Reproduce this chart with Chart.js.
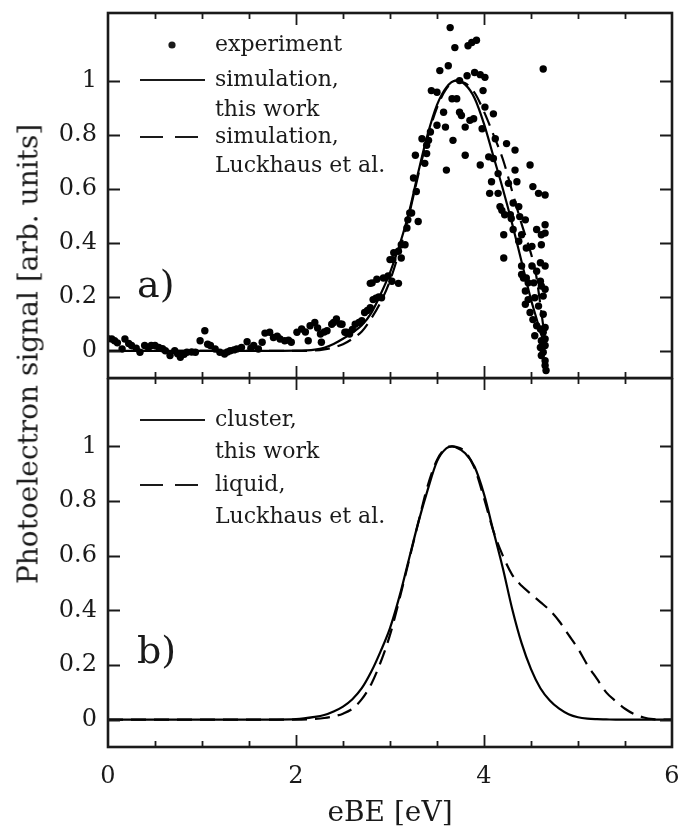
<!DOCTYPE html>
<html>
<head>
<meta charset="utf-8">
<script src="https://cdn.jsdelivr.net/npm/chart.js@4.4.1/dist/chart.umd.min.js"></script>
<style>
    body { margin: 0; background: #fff; }
    .figure { position: relative; width: 680px; height: 831px; }
    .figure canvas { position: absolute; left: 0; }
    .y-title {
        position: absolute;
        left: 28px;
        top: 354px;
        transform: translate(-50%, -50%) rotate(-90deg);
        white-space: nowrap;
        font: 28px 'DejaVu Serif', serif;
        color: #1a1a1a;
    }
</style>
</head>
<body>
<div class="figure">
    <canvas id="topChart" width="680" height="380" style="top:0"></canvas>
    <canvas id="bottomChart" width="680" height="453" style="top:378px"></canvas>
    <div class="y-title">Photoelectron signal [arb. units]</div>
</div>
<script>
// axis ticks
const xTicks = [0, 2, 4, 6];
const xMinorTicks = [0.5, 1, 1.5, 2, 2.5, 3, 3.5, 4, 4.5, 5, 5.5];
const yTicks = [0, 0.2, 0.4, 0.6, 0.8, 1];

// a) measured spectrum
const expX = [
    0.0, 0.04, 0.07, 0.10, 0.15, 0.18, 0.22, 0.25, 0.30, 0.34, 0.39, 0.43, 0.46, 0.50, 0.54, 0.58,
    0.61, 0.66, 0.71, 0.74, 0.77, 0.81, 0.84, 0.89, 0.93, 0.98, 1.03, 1.06, 1.09, 1.14, 1.19, 1.24,
    1.27, 1.30, 1.34, 1.37, 1.42, 1.48, 1.52, 1.55, 1.60, 1.64, 1.67, 1.72, 1.76, 1.80, 1.83, 1.88,
    1.92, 1.95, 2.01, 2.06, 2.10, 2.13, 2.15, 2.20, 2.23, 2.26, 2.27, 2.30, 2.33, 2.38, 2.40, 2.43,
    2.47, 2.49, 2.52, 2.54, 2.57, 2.60, 2.63, 2.67, 2.70, 2.73, 2.76, 2.79, 2.82, 2.85, 2.88, 2.91,
    2.79, 2.81, 2.86, 2.93, 2.98, 3.02, 3.09, 3.00, 3.03, 3.04, 3.09, 3.12, 3.12, 3.16, 3.18, 3.19,
    3.21, 3.23, 3.30, 3.28, 3.25, 3.27, 3.34, 3.37, 3.39, 3.39, 3.41, 3.43, 3.50, 3.44, 3.50, 3.53,
    3.57, 3.59, 3.62, 3.60, 3.67, 3.66, 3.71, 3.74, 3.69, 3.64, 3.74, 3.76, 3.80, 3.80, 3.83, 3.87,
    3.92, 3.82, 3.90, 3.96, 4.01, 3.85, 3.89, 3.99, 4.01, 3.98, 3.96, 4.10, 4.05, 4.10, 4.12, 4.24,
    4.33, 4.15, 4.08, 4.06, 4.15, 4.17, 4.19, 4.21, 4.21, 4.26, 4.33, 4.35, 4.28, 4.22, 4.29, 4.31,
    4.31, 4.37, 4.38, 4.44, 4.40, 4.37, 4.45, 4.51, 4.49, 4.52, 4.58, 4.65, 4.56, 4.61, 4.65, 4.65,
    4.61, 4.40, 4.42, 4.40, 4.45, 4.51, 4.56, 4.60, 4.65, 4.44, 4.47, 4.53, 4.60, 4.61, 4.65, 4.63,
    4.44, 4.47, 4.49, 4.54, 4.58, 4.63, 4.52, 4.56, 4.54, 4.60, 4.63, 4.65, 4.61, 4.65, 4.60, 4.65,
    4.63, 4.61, 4.65, 4.65, 4.66, 4.63
];
const expY = [
    0.045, 0.044, 0.038, 0.030, 0.007, 0.044, 0.028, 0.020, 0.010, -0.005, 0.020, 0.012, 0.020, 0.020, 0.013, 0.008,
    0.001, -0.017, 0.001, -0.010, -0.023, -0.012, -0.005, -0.004, -0.005, 0.038, 0.075, 0.025, 0.020, 0.007, -0.005, -0.011,
    -0.004, 0.001, 0.004, 0.007, 0.013, 0.034, 0.010, 0.020, 0.007, 0.032, 0.066, 0.069, 0.050, 0.055, 0.044, 0.038,
    0.040, 0.032, 0.069, 0.081, 0.070, 0.038, 0.093, 0.105, 0.085, 0.063, 0.032, 0.070, 0.075, 0.099, 0.105, 0.118,
    0.100, 0.099, 0.069, 0.069, 0.063, 0.080, 0.099, 0.105, 0.112, 0.142, 0.150, 0.160, 0.190, 0.195, 0.200, 0.197,
    0.250, 0.252, 0.265, 0.270, 0.277, 0.258, 0.250, 0.338, 0.338, 0.363, 0.369, 0.344, 0.393, 0.393, 0.455, 0.485,
    0.510, 0.510, 0.479, 0.590, 0.640, 0.724, 0.785, 0.694, 0.730, 0.761, 0.779, 0.810, 0.835, 0.963, 0.957, 1.037,
    0.883, 0.828, 1.055, 0.669, 0.779, 0.933, 0.933, 1.000, 1.122, 1.196, 0.883, 0.871, 0.828, 0.724, 1.129, 1.141,
    1.149, 1.018, 1.030, 1.022, 1.012, 0.853, 0.859, 0.963, 0.902, 0.822, 0.688, 0.877, 0.718, 0.712, 0.785, 0.767,
    0.743, 0.656, 0.626, 0.583, 0.583, 0.534, 0.520, 0.430, 0.344, 0.620, 0.669, 0.626, 0.504, 0.504, 0.490, 0.547,
    0.449, 0.534, 0.497, 0.485, 0.430, 0.406, 0.381, 0.387, 0.688, 0.608, 0.583, 0.577, 0.449, 0.430, 0.467, 0.436,
    0.393, 0.314, 0.270, 0.283, 0.270, 0.314, 0.295, 0.326, 0.314, 0.222, 0.252, 0.252, 0.258, 0.240, 0.228, 0.203,
    0.173, 0.190, 0.142, 0.197, 0.166, 0.136, 0.116, 0.093, 0.056, 0.081, 0.069, 0.087, 0.038, 0.044, 0.013, 0.020,
    -0.005, -0.017, -0.036, -0.054, -0.072, 1.043
];

// a) simulated spectra
const simX = [
    0, 0.5, 1, 1.5, 2, 2.2, 2.3, 2.4, 2.5, 2.6, 2.7, 2.8, 2.9, 3.0, 3.1, 3.2,
    3.3, 3.4, 3.5, 3.6, 3.7, 3.8, 3.9, 4.0, 4.1, 4.2, 4.3, 4.4, 4.5, 4.55, 4.6, 4.65
];
const simThisWork = [
    0, 0, 0, 0, 0.001, 0.005, 0.012, 0.026, 0.045, 0.068, 0.095, 0.14, 0.21, 0.29, 0.39, 0.51,
    0.66, 0.80, 0.91, 0.975, 1.0, 0.985, 0.935, 0.84, 0.72, 0.60, 0.47, 0.33, 0.19, 0.13, 0.07, 0.02
];
const simLuckhaus = [
    0, 0, 0, 0, 0, 0.002, 0.006, 0.013, 0.025, 0.045, 0.072, 0.12, 0.18, 0.26, 0.37, 0.50,
    0.65, 0.79, 0.90, 0.97, 1.0, 0.99, 0.955, 0.885, 0.80, 0.71, 0.59, 0.47, 0.36, 0.29, 0.17, 0.04
];

// b) cluster vs. liquid
const cmpX = [
    0, 0.5, 1, 1.5, 2, 2.2, 2.3, 2.4, 2.5, 2.6, 2.7, 2.8, 2.9, 3.0, 3.1, 3.2, 3.3, 3.4, 3.5, 3.6, 3.66, 3.7,
    3.8, 3.9, 4.0, 4.1, 4.2, 4.3, 4.4, 4.5, 4.6, 4.7, 4.8, 4.9, 5.0, 5.1, 5.2, 5.3, 5.4, 5.5, 5.6, 5.7, 5.8, 5.9, 6.0
];
const cluster = [
    0, 0, 0, 0, 0.002, 0.01, 0.017, 0.03, 0.048, 0.075, 0.115, 0.175, 0.25, 0.335, 0.45, 0.585, 0.72, 0.84, 0.945, 0.993, 1.0, 0.997,
    0.975, 0.925, 0.825, 0.69, 0.555, 0.405, 0.28, 0.185, 0.115, 0.07, 0.04, 0.02, 0.009, 0.004, 0.002, 0.001, 0, 0, 0, 0, 0, 0, 0
];
const liquid = [
    0, 0, 0, 0, 0, 0.003, 0.006, 0.012, 0.022, 0.04, 0.075, 0.13, 0.21, 0.31, 0.44, 0.58, 0.72, 0.855, 0.95, 0.995, 1.0, 0.998,
    0.98, 0.92, 0.81, 0.69, 0.6, 0.53, 0.49, 0.46, 0.43, 0.40, 0.36, 0.31, 0.26, 0.2, 0.15, 0.1, 0.068, 0.04, 0.02, 0.008, 0.002, 0, 0
];

const topLegend = [['experiment'], ['simulation,', 'this work'], ['simulation,', 'Luckhaus et al.']];
const bottomLegend = [['cluster,', 'this work'], ['liquid,', 'Luckhaus et al.']];

const serif = "'DejaVu Serif', serif";
const ink = '#1a1a1a';
Chart.defaults.font.family = serif;
Chart.defaults.color = ink;

const toPoints = (xs, ys) => xs.map((x, i) => ({ x, y: ys[i] }));

// frame, inward ticks, panel letter and the hand-laid legend
const panelDecor = {
    id: 'panelDecor',
    afterDatasetsDraw(chart, args, opts) {
        const { ctx, chartArea: a, scales: { x, y } } = chart;
        ctx.save();
        ctx.strokeStyle = ink;
        ctx.lineWidth = 1.8;
        ctx.setLineDash([]);
        ctx.beginPath();
        xMinorTicks.forEach((v) => {
            const px = Math.round(x.getPixelForValue(v)) + 0.5;
            const len = v % 2 === 0 ? 12 : 6;
            ctx.moveTo(px, a.top);
            ctx.lineTo(px, a.top + len);
            ctx.moveTo(px, a.bottom);
            ctx.lineTo(px, a.bottom - len);
        });
        yTicks.forEach((v) => {
            const py = Math.round(y.getPixelForValue(v)) + 0.5;
            ctx.moveTo(a.left, py);
            ctx.lineTo(a.left + 12, py);
            ctx.moveTo(a.right, py);
            ctx.lineTo(a.right - 12, py);
        });
        ctx.stroke();
        ctx.lineWidth = 2.6;
        ctx.strokeRect(a.left, a.top, a.right - a.left, a.bottom - a.top);

        ctx.fillStyle = ink;
        ctx.textBaseline = 'middle';
        ctx.font = `38px ${serif}`;
        ctx.fillText(opts.label, a.left + 29, a.top + opts.labelY);

        ctx.font = `22px ${serif}`;
        let row = 0;
        opts.entries.forEach((lines, i) => {
            const ds = chart.data.datasets[i];
            const sy = a.top + opts.rows[row];
            if (ds.showLine === false) {
                ctx.beginPath();
                ctx.arc(a.left + 64, sy, 3.6, 0, Math.PI * 2);
                ctx.fill();
            } else {
                ctx.lineWidth = 2.2;
                ctx.setLineDash(ds.borderDash && ds.borderDash.length ? [23, 12] : []);
                ctx.beginPath();
                ctx.moveTo(a.left + 32, sy);
                ctx.lineTo(a.left + 97, sy);
                ctx.stroke();
                ctx.setLineDash([]);
            }
            lines.forEach((line) => {
                ctx.fillText(line, a.left + 107, a.top + opts.rows[row]);
                row += 1;
            });
        });
        ctx.restore();
    },
};

const yScale = () => ({
    min: -0.1,
    max: 1.25,
    afterFit: (scale) => {
        scale.width = 108;
        scale.paddingTop = 0;
        scale.paddingBottom = 0;
    },
    afterBuildTicks: (scale) => {
        scale.ticks = yTicks.map((v) => ({ value: v }));
    },
    grid: { display: false, drawTicks: false },
    border: { display: false },
    ticks: {
        font: { size: 24 },
        padding: 11,
        callback: (v) => String(+v.toFixed(1)),
    },
});

const lineStyle = (dashed) => ({
    showLine: true,
    borderColor: '#000',
    borderWidth: 2.2,
    borderDash: dashed ? [15, 8] : [],
    pointRadius: 0,
    cubicInterpolationMode: 'monotone',
});

document.addEventListener('DOMContentLoaded', () => {
    new Chart(document.getElementById('topChart'), {
        type: 'scatter',
        data: {
            datasets: [
                {
                    label: 'experiment',
                    data: toPoints(expX, expY),
                    showLine: false,
                    pointRadius: 3.7,
                    pointBackgroundColor: '#000',
                    pointBorderWidth: 0,
                },
                { label: 'simulation, this work', data: toPoints(simX, simThisWork), ...lineStyle(false) },
                { label: 'simulation, Luckhaus et al.', data: toPoints(simX, simLuckhaus), ...lineStyle(true) },
            ],
        },
        options: {
            responsive: false,
            animation: false,
            layout: { autoPadding: false, padding: { top: 13, right: 8, bottom: 2, left: 0 } },
            scales: {
                x: { type: 'linear', min: 0, max: 6, display: false },
                y: yScale(),
            },
            plugins: {
                legend: { display: false },
                tooltip: { enabled: false },
                panelDecor: { label: 'a)', labelY: 274, entries: topLegend, rows: [32, 67, 97, 124, 153] },
            },
        },
        plugins: [panelDecor],
    });

    new Chart(document.getElementById('bottomChart'), {
        type: 'scatter',
        data: {
            datasets: [
                { label: 'cluster, this work', data: toPoints(cmpX, cluster), ...lineStyle(false) },
                { label: 'liquid, Luckhaus et al.', data: toPoints(cmpX, liquid), ...lineStyle(true) },
            ],
        },
        options: {
            responsive: false,
            animation: false,
            layout: { autoPadding: false, padding: { top: 0, right: 8, bottom: 0, left: 0 } },
            scales: {
                x: {
                    type: 'linear',
                    min: 0,
                    max: 6,
                    afterFit: (scale) => {
                        scale.height = 84;
                        scale.paddingLeft = 0;
                        scale.paddingRight = 0;
                    },
                    afterBuildTicks: (scale) => {
                        scale.ticks = xTicks.map((v) => ({ value: v }));
                    },
                    grid: { display: false, drawTicks: false },
                    border: { display: false },
                    ticks: { font: { size: 24 }, padding: 15, maxRotation: 0 },
                    title: { display: true, text: 'eBE [eV]', font: { size: 28 }, padding: { top: 0, bottom: 0 } },
                },
                y: yScale(),
            },
            plugins: {
                legend: { display: false },
                tooltip: { enabled: false },
                panelDecor: { label: 'b)', labelY: 275, entries: bottomLegend, rows: [42, 74, 107, 139] },
            },
        },
        plugins: [panelDecor],
    });
});
</script>
</body>
</html>
